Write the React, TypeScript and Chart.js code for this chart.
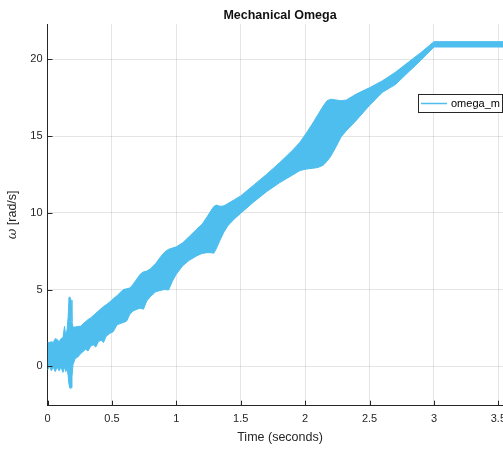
import React, { useEffect, useRef } from "react";
import { Chart, registerables } from "chart.js";

Chart.register(...registerables);

// Time samples (seconds)
const time = [
  0.0, 0.015, 0.03, 0.045, 0.06, 0.075, 0.09, 0.105, 0.12, 0.132, 0.142, 0.152, 0.16, 0.167, 0.175, 0.183,
  0.19, 0.198, 0.215, 0.235, 0.255, 0.275, 0.295, 0.315, 0.335, 0.355, 0.375, 0.395, 0.415, 0.435, 0.455,
  0.485, 0.51, 0.54, 0.57, 0.59, 0.615, 0.64, 0.665, 0.695, 0.72, 0.745, 0.77, 0.8, 0.84, 0.88, 0.91, 0.94,
  0.97, 1.0, 1.05, 1.1, 1.16, 1.2, 1.24, 1.27, 1.29, 1.31, 1.34, 1.37, 1.4, 1.45, 1.5, 1.6, 1.7, 1.8, 1.9,
  1.96, 2.01, 2.06, 2.1, 2.14, 2.17, 2.2, 2.24, 2.28, 2.32, 2.4, 2.5, 2.6, 2.7, 2.8, 2.9, 3.0, 3.61,
];

// Upper envelope of omega_m (rad/s)
const omegaUpper = [
  1.55, 1.55, 1.6, 1.55, 1.8, 1.75, 1.6, 1.8, 1.85, 2.6, 1.95, 2.4, 3.2, 4.5, 4.5, 4.3,
  2.9, 2.55, 2.55, 2.6, 2.6, 2.75, 2.9, 3.05, 3.15, 3.3, 3.45, 3.6, 3.75, 3.9, 4.0,
  4.2, 4.4, 4.6, 4.85, 5.0, 5.05, 5.1, 5.35, 5.7, 6.0, 6.15, 6.2, 6.35, 6.7, 7.15, 7.45, 7.62,
  7.7, 7.78, 8.05, 8.45, 8.95, 9.25, 9.75, 10.15, 10.4, 10.5, 10.42, 10.45, 10.6, 10.85, 11.1, 11.8, 12.5, 13.25, 14.05,
  14.6, 15.2, 15.85, 16.4, 16.95, 17.3, 17.4, 17.35, 17.3, 17.35, 17.75, 18.15, 18.6, 19.15, 19.8, 20.45, 21.15, 21.15,
];

// Lower envelope of omega_m (rad/s)
const omegaLower = [
  -0.25, 0.0, -0.3, -0.05, -0.35, -0.05, -0.3, -0.05, -0.4, -0.05, -0.35, -0.15, -0.6, -1.2, -1.45, -1.4,
  -0.7, 0.1, 0.5, 0.6, 0.8, 0.95, 1.1, 1.0, 1.3, 1.4, 1.25, 1.6, 1.7, 1.55, 1.95,
  2.15, 2.25, 2.7, 2.8, 2.85, 2.95, 3.4, 3.6, 3.72, 3.78, 3.72, 4.25, 4.55, 4.85, 4.95, 5.0, 4.97,
  5.55, 6.0, 6.55, 6.9, 7.2, 7.35, 7.4, 7.4, 7.36, 7.65, 8.23, 8.75, 9.15, 9.6, 9.97, 10.7, 11.37, 11.95, 12.45,
  12.75, 12.85, 12.9, 12.95, 13.1, 13.35, 13.7, 14.3, 14.95, 15.35, 16.05, 17.0, 17.85, 18.35, 19.15, 19.95, 20.8, 20.8,
];

const xTicks = [0, 0.5, 1, 1.5, 2, 2.5, 3, 3.5];
const yTicks = [0, 5, 10, 15, 20];
const xTickLabels = ["0", "0.5", "1", "1.5", "2", "2.5", "3", "3.5"];
const yTickLabels = ["0", "5", "10", "15", "20"];

const titleText = "Mechanical Omega";
const xLabelText = "Time (seconds)";
const yLabelSymbol = "ω";
const yLabelUnit = " [rad/s]";
const legendLabel = "omega_m";

const BLUE = "rgb(77,190,238)";
const AXIS = "#262626";
const GRID = "rgba(38,38,38,0.12)";
const SANS = "'Liberation Sans', Arial, Helvetica, sans-serif";

export default function App() {
  const ref = useRef<HTMLCanvasElement | null>(null);

  useEffect(() => {
    if (!ref.current) return;
    const overlay = {
      id: "overlay",
      afterDraw(chart: any) {
        const { ctx, chartArea, scales } = chart;
        const xs = scales.x;
        const ys = scales.y;
        ctx.save();
        // inward tick marks
        ctx.strokeStyle = AXIS;
        ctx.lineWidth = 1;
        ctx.beginPath();
        xTicks.forEach((v) => {
          const px = Math.round(xs.getPixelForValue(v)) + 0.5;
          ctx.moveTo(px, chartArea.bottom);
          ctx.lineTo(px, chartArea.bottom - 5);
        });
        yTicks.forEach((v) => {
          const py = Math.round(ys.getPixelForValue(v)) + 0.5;
          ctx.moveTo(chartArea.left, py);
          ctx.lineTo(chartArea.left + 5, py);
        });
        ctx.stroke();

        const cx = (chartArea.left + chartArea.right) / 2;
        // title
        ctx.fillStyle = "#111";
        ctx.font = `bold 12.5px ${SANS}`;
        ctx.textAlign = "center";
        ctx.textBaseline = "middle";
        ctx.fillText(titleText, cx, 15.5);

        // x label
        ctx.fillStyle = AXIS;
        ctx.font = `12.5px ${SANS}`;
        ctx.fillText(xLabelText, cx, 438);

        // y label
        ctx.save();
        ctx.translate(12.5, (chartArea.top + chartArea.bottom) / 2);
        ctx.rotate(-Math.PI / 2);
        const symFont = `italic 13px 'DejaVu Serif', 'Liberation Serif', serif`;
        const unitFont = `12.5px ${SANS}`;
        ctx.font = symFont;
        const w1 = ctx.measureText(yLabelSymbol).width;
        ctx.font = unitFont;
        const w2 = ctx.measureText(yLabelUnit).width;
        const start = -(w1 + w2) / 2;
        ctx.textAlign = "left";
        ctx.font = symFont;
        ctx.fillText(yLabelSymbol, start, 0);
        ctx.font = unitFont;
        ctx.fillText(yLabelUnit, start + w1, 0);
        ctx.restore();

        // legend
        const lx = 418.5, ly = 94.5, lw = 84, lh = 18;
        ctx.fillStyle = "#fff";
        ctx.fillRect(lx, ly, lw, lh);
        ctx.strokeStyle = AXIS;
        ctx.lineWidth = 1;
        ctx.strokeRect(lx, ly, lw, lh);
        ctx.strokeStyle = BLUE;
        ctx.lineWidth = 1.5;
        ctx.beginPath();
        ctx.moveTo(421, 103.5);
        ctx.lineTo(447, 103.5);
        ctx.stroke();
        ctx.fillStyle = "#000";
        ctx.font = `11px ${SANS}`;
        ctx.textAlign = "left";
        ctx.textBaseline = "middle";
        ctx.fillText(legendLabel, 451, 103.5);
        ctx.restore();
      },
    };

    const chart = new Chart(ref.current, {
      type: "line",
      data: {
        datasets: [
          {
            label: legendLabel,
            data: time.map((t, i) => ({ x: t, y: omegaUpper[i] })),
            borderColor: BLUE,
            backgroundColor: BLUE,
            borderWidth: 1,
            pointRadius: 0,
            tension: 0,
            fill: false,
          },
          {
            label: legendLabel + "_low",
            data: time.map((t, i) => ({ x: t, y: omegaLower[i] })),
            borderColor: BLUE,
            backgroundColor: BLUE,
            borderWidth: 1,
            pointRadius: 0,
            tension: 0,
            fill: "-1",
          },
        ],
      },
      options: {
        responsive: false,
        animation: false,
        layout: { padding: { top: 24, right: 0, bottom: 0, left: 0 } },
        plugins: {
          legend: { display: false },
          title: { display: false },
          tooltip: { enabled: false },
        },
        scales: {
          x: {
            type: "linear",
            min: 0,
            max: 3.61,
            afterBuildTicks: (s: any) => {
              s.ticks = xTicks.map((v) => ({ value: v }));
            },
            afterFit: (s: any) => {
              s.height = 43.3;
            },
            ticks: {
              autoSkip: false,
              maxRotation: 0,
              padding: 7,
              color: AXIS,
              font: { family: SANS, size: 11 },
              callback: (v: any) => {
                const i = xTicks.indexOf(Number(v));
                return i >= 0 ? xTickLabels[i] : "";
              },
            },
            grid: { color: GRID, tickLength: 0, lineWidth: 1 },
            border: { display: true, color: AXIS, width: 1 },
          },
          y: {
            type: "linear",
            min: -2.57,
            max: 22.3,
            afterBuildTicks: (s: any) => {
              s.ticks = yTicks.map((v) => ({ value: v }));
            },
            afterFit: (s: any) => {
              s.width = 47.5;
            },
            ticks: {
              autoSkip: false,
              padding: 5,
              color: AXIS,
              font: { family: SANS, size: 11 },
              callback: (v: any) => {
                const i = yTicks.indexOf(Number(v));
                return i >= 0 ? yTickLabels[i] : "";
              },
            },
            grid: { color: GRID, tickLength: 0, lineWidth: 1 },
            border: { display: true, color: AXIS, width: 1 },
          },
        },
      },
      plugins: [overlay],
    } as any);
    return () => chart.destroy();
  }, []);

  return (
    <div
      style={{
        position: "fixed",
        left: 0,
        top: 0,
        width: 503,
        height: 449,
        overflow: "hidden",
        background: "#fff",
      }}
    >
      <canvas ref={ref} width={513} height={449} style={{ display: "block" }} />
    </div>
  );
}
